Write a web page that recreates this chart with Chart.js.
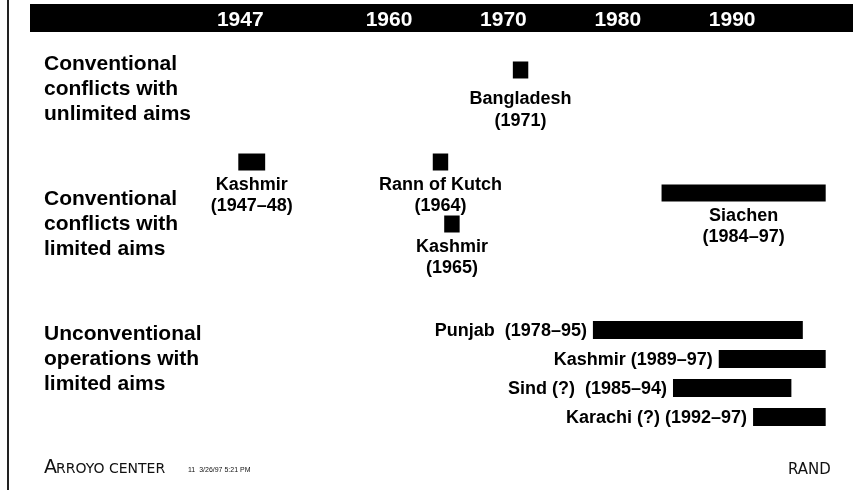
<!DOCTYPE html>
<html><head><meta charset="utf-8">
<script src="https://cdn.jsdelivr.net/npm/chart.js@4.4.1/dist/chart.umd.min.js"></script>
<style>html,body{margin:0;padding:0;background:#fff;}canvas{display:block;}</style>
</head><body>
<canvas id="c" width="864" height="490"></canvas>
<script>
// ---------------- data ----------------
const rowLabels = [
  ["Conventional", "conflicts with", "unlimited aims"],
  ["Conventional", "conflicts with", "limited aims"],
  ["Unconventional", "operations with", "limited aims"]
];
const tickYears = [1947, 1960, 1970, 1980, 1990];
const eventNames = ["Bangladesh", "Rann of Kutch", "Kashmir", "Siachen", "Kashmir", "Punjab ", "Kashmir", "Sind (?) ", "Karachi (?)"];
const startYears = [1971, 1964, 1947, 1984, 1965, 1978, 1989, 1985, 1992];
const endYears   = [1971, 1964, 1948, 1997, 1965, 1995, 1997, 1994, 1997];
const eventRow   = [0, 1, 1, 1, 1, 2, 2, 2, 2];      // which row (conflict type)

// ---------------- layout / style ----------------
const FONT = "'Liberation Sans', Arial, Helvetica, sans-serif";
const X_MIN = 1946.1, X_MAX = 1999.6;
const Y_MIN = -0.4222, Y_MAX = 2.637;
const eventLane = [1, 0, 0, 1, 2, 1, 2, 3, 4];       // sub-lane used for each event inside its row
const rowCategoryPct = [0.704, 1.148, 1.074];
const rowLabelGap = [[29, 51], [23, 44]];            // caption lines below a mark (rows 0 and 1)

function yearsText(i) {
  const s = startYears[i], e = endYears[i];
  return s === e ? "(" + s + ")" : "(" + s + "\u2013" + String(e).slice(-2) + ")";
}

const datasets = eventNames.map((name, i) => ({
  label: name.trim(),
  // a bar covers the whole of each year, so it runs to the end of the last year
  data: [{ x: [startYears[i], endYears[i] + 1], y: eventRow[i] }],
  stack: "lane" + eventLane[i],
  order: eventLane[i],
  backgroundColor: "#000",
  borderWidth: 0,
  inflateAmount: 2,
  categoryPercentage: rowCategoryPct[eventRow[i]],
  barPercentage: 1,
  maxBarThickness: eventRow[i] === 2 ? 14 : 13
}));

const framePlugin = {
  id: "frame",
  beforeDraw(chart) {
    const ctx = chart.ctx, xs = chart.scales.x;
    ctx.save();
    ctx.fillStyle = "#222";
    ctx.fillRect(7, 0, 2, chart.height);
    ctx.fillStyle = "#000";
    ctx.fillRect(30, xs.top, 853 - 30, xs.bottom - xs.top);
    ctx.restore();
  },
  afterDraw(chart) {
    const ctx = chart.ctx;
    ctx.save();
    ctx.fillStyle = "#111";
    ctx.textBaseline = "alphabetic";
    ctx.textAlign = "left";
    ctx.font = "19px 'DejaVu Sans', sans-serif";
    ctx.fillText("A", 44, 473);
    const wA = ctx.measureText("A").width;
    ctx.font = "14px 'DejaVu Sans', sans-serif";
    ctx.fillText("RROYO CENTER", 44 + wA - 1, 473);
    ctx.font = "7px " + FONT;
    ctx.fillText("11  3/26/97 5:21 PM", 188, 472);
    ctx.font = "15px 'DejaVu Sans', sans-serif";
    ctx.fillText("RAND", 788, 474);
    ctx.restore();
  }
};

const labelPlugin = {
  id: "eventLabels",
  afterDatasetsDraw(chart) {
    const ctx = chart.ctx;
    ctx.save();
    ctx.fillStyle = "#000";
    ctx.font = "bold 18px " + FONT;
    chart.data.datasets.forEach((ds, i) => {
      const el = chart.getDatasetMeta(i).data[0];
      if (!el) return;
      const p = el.getProps(["x", "y", "base"], true);
      const left = Math.min(p.x, p.base), right = Math.max(p.x, p.base);
      ctx.textBaseline = "middle";
      if (eventRow[i] === 2) {
        ctx.textAlign = "right";
        ctx.fillText(eventNames[i] + " " + yearsText(i), left - 8, p.y + 1);
      } else {
        const cx = (left + right) / 2, gap = rowLabelGap[eventRow[i]];
        ctx.textAlign = "center";
        ctx.fillText(eventNames[i], cx, p.y + gap[0]);
        ctx.fillText(yearsText(i), cx, p.y + gap[1]);
      }
    });
    ctx.restore();
  }
};

new Chart(document.getElementById("c"), {
  type: "bar",
  data: { datasets },
  plugins: [framePlugin, labelPlugin],
  options: {
    responsive: false,
    animation: false,
    devicePixelRatio: 1,
    indexAxis: "y",
    layout: { padding: { top: 4, left: 44, right: 22, bottom: 45 } },
    plugins: { legend: { display: false }, tooltip: { enabled: false } },
    scales: {
      x: {
        type: "linear", position: "top", min: X_MIN, max: X_MAX, stacked: false,
        grid: { display: false }, border: { display: false },
        afterBuildTicks: s => { s.ticks = tickYears.map(v => ({ value: v })); },
        afterFit: s => { s.height = 28; s.paddingLeft = 0; s.paddingRight = 0; },
        ticks: {
          autoSkip: false, maxRotation: 0, minRotation: 0, padding: -8, color: "#fff",
          font: { family: FONT, size: 21, weight: "bold", lineHeight: 1.1 },
          callback: v => String(v)
        }
      },
      y: {
        type: "linear", reverse: true, min: Y_MIN, max: Y_MAX, offset: false,
        grid: { display: false }, border: { display: false },
        afterBuildTicks: s => { s.ticks = rowLabels.map((_, i) => ({ value: i })); },
        afterFit: s => { s.width = 186; s.paddingTop = 0; s.paddingBottom = 0; },
        ticks: {
          autoSkip: false, crossAlign: "far", padding: 0, labelOffset: 0, color: "#000",
          font: { family: FONT, size: 21, weight: "bold", lineHeight: 1.19 },
          callback: v => rowLabels[v]
        }
      }
    }
  }
});
</script>
</body></html>
